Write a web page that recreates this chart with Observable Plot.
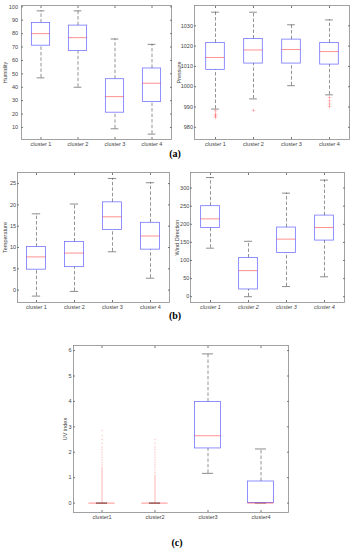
<!DOCTYPE html>
<html>
<head>
<meta charset="utf-8">
<script src="https://cdn.jsdelivr.net/npm/d3@7"></script>
<script src="https://cdn.jsdelivr.net/npm/@observablehq/plot@0.6"></script>
<style>
  html, body { margin: 0; padding: 0; background: #fff; }
  #wrap { position: relative; width: 354px; height: 550px; overflow: hidden; background: #fff; }
  #wrap svg { position: absolute; background: transparent !important; }
  .tag { position: absolute; font-family: "Liberation Serif", "DejaVu Serif", serif; font-weight: bold; font-size: 10px; color: #000; transform: translate(-50%, -50%); }
</style>
</head>
<body>
<div id="wrap"></div>
<script>
// ---------- data ----------
const clusters = ["cluster 1", "cluster 2", "cluster 3", "cluster 4"];
const clustersUV = ["cluster1", "cluster2", "cluster3", "cluster4"];

// Humidity
const humLower  = [47, 40, 9, 5];
const humQ1     = [71, 67, 21, 29];
const humMedian = [80, 77, 33, 43];
const humQ3     = [88, 86, 46, 54];
const humUpper  = [97, 97, 76, 72];
const humTicks  = [10, 20, 30, 40, 50, 60, 70, 80, 90, 100];

// Pressure
const presLower  = [989, 994, 1000.5, 996];
const presQ1     = [1008.3, 1011.4, 1011.4, 1010.9];
const presMedian = [1014.4, 1018.1, 1018.3, 1017.3];
const presQ3     = [1021.5, 1023.5, 1023.2, 1021.5];
const presUpper  = [1036.7, 1036.7, 1030.5, 1032.9];
const presOutC1  = [988.1, 986.5, 985.7, 984.9];
const presOutC2  = [988.3];
const presOutC4  = [994.7, 993, 991.5, 990.2];
const presTicks  = [980, 990, 1000, 1010, 1020, 1030];

// Temperature
const tempLower  = [-1.4, -0.3, 9.0, 2.8];
const tempQ1     = [4.8, 5.4, 14.1, 9.5];
const tempMedian = [7.8, 8.7, 17.2, 12.7];
const tempQ3     = [10.1, 11.3, 20.6, 15.8];
const tempUpper  = [17.9, 20.2, 26.2, 25.2];
const tempTicks  = [0, 5, 10, 15, 20, 25];

// Wind Direction
const windLower  = [134, 0, 28, 55];
const windQ1     = [190, 20, 121, 155];
const windMedian = [215, 72, 159, 191];
const windQ3     = [250, 107, 191, 224];
const windUpper  = [329, 153, 286, 322];
const windTicks  = [0, 50, 100, 150, 200, 250, 300];

// UV index
const uvLower  = [0, 0, 1.17, 0];
const uvQ1     = [0, 0, 2.15, 0];
const uvMedian = [0, 0, 2.65, 0];
const uvQ3     = [0, 0, 3.98, 0.85];
const uvUpper  = [0, 0, 5.87, 2.13];
const uvOutC1  = [0.05, 0.1, 0.15, 0.2, 0.25, 0.3, 0.35, 0.4, 0.45, 0.5, 0.55, 0.6, 0.65, 0.7, 0.75, 0.8, 0.85, 0.9, 0.95, 1.0, 1.05, 1.1, 1.15, 1.2, 1.25, 1.3, 1.35, 1.4, 1.5, 1.6, 1.7, 1.8, 1.9, 2.0, 2.1, 2.2, 2.35, 2.5, 2.65, 2.85];
const uvOutC2  = [0.05, 0.1, 0.15, 0.2, 0.25, 0.3, 0.35, 0.4, 0.45, 0.5, 0.55, 0.6, 0.65, 0.7, 0.75, 0.8, 0.85, 0.9, 0.95, 1.0, 1.05, 1.1, 1.2, 1.3, 1.4, 1.5, 1.6, 1.7, 1.8, 1.9, 2.0, 2.1, 2.2, 2.35, 2.5];
const uvTicks  = [0, 1, 2, 3, 4, 5, 6];

// ---------- helpers ----------
const wrap = document.getElementById("wrap");
const BLUE = "#0000ff", RED = "#ff0000", GREY = "#333";

function rowsOf(names, lo, q1, md, q3, hi) {
  return names.map((n, i) => ({name: n, lo: lo[i], q1: q1[i], md: md[i], q3: q3[i], hi: hi[i]}));
}
function outRows(names, lists) {
  const out = [];
  lists.forEach((arr, i) => { if (arr) arr.forEach(v => out.push({name: names[i], v})); });
  return out;
}

function panel(cfg) {
  const [sx, sy, sw, sh] = cfg.box;
  const [x0, y0, x1, y1] = cfg.frame;
  const band = (x1 - x0) / cfg.names.length;
  const boxInset = band * 0.25;
  const capInset = band * 0.39;
  const xAxisOpts = {anchor: "bottom", tickSize: -2, tickPadding: 5, label: null, stroke: "#777"};
  if (cfg.italic) xAxisOpts.fontStyle = "italic";
  const p = Plot.plot({
    width: sw, height: sh,
    marginLeft: x0 - sx, marginTop: y0 - sy, marginRight: sx + sw - x1, marginBottom: sy + sh - y1,
    style: {fontFamily: "Liberation Sans, Arial, sans-serif", fontSize: "5.5px", color: "#444", background: "transparent"},
    x: {type: "band", domain: cfg.names, padding: 0},
    y: {domain: cfg.domain},
    marks: [
      Plot.frame({stroke: "#8a8a8a", strokeWidth: 0.8}),
      Plot.ruleX(cfg.rows, {x: "name", y1: "q3", y2: "hi", stroke: GREY, strokeWidth: 0.7, strokeOpacity: 0.75, strokeDasharray: "3.5,2"}),
      Plot.ruleX(cfg.rows, {x: "name", y1: "lo", y2: "q1", stroke: GREY, strokeWidth: 0.7, strokeOpacity: 0.75, strokeDasharray: "3.5,2"}),
      Plot.tickY(cfg.rows, {x: "name", y: "hi", insetLeft: capInset, insetRight: capInset, stroke: GREY, strokeWidth: 0.7, strokeOpacity: 0.8}),
      Plot.tickY(cfg.rows, {x: "name", y: "lo", insetLeft: capInset, insetRight: capInset, stroke: GREY, strokeWidth: 0.7, strokeOpacity: 0.8}),
      Plot.barY(cfg.rows, {x: "name", y1: "q1", y2: "q3", insetLeft: boxInset, insetRight: boxInset, fill: "white", stroke: BLUE, strokeWidth: 0.8, strokeOpacity: 0.55}),
      Plot.tickY(cfg.rows, {x: "name", y: "md", insetLeft: boxInset, insetRight: boxInset, stroke: RED, strokeWidth: 0.8, strokeOpacity: 0.55}),
      Plot.dot(cfg.outliers || [], {x: "name", y: "v", symbol: "plus", r: cfg.outR || 1.3, stroke: RED, strokeWidth: 0.5, strokeOpacity: cfg.outOpacity || 0.45}),
      Plot.axisY({anchor: "left", ticks: cfg.ticks, tickFormat: d => String(d), tickSize: -2, tickPadding: cfg.tickPad || 4, stroke: "#777",
        label: cfg.label, labelAnchor: "center", labelArrow: "none", labelOffset: cfg.labelOffset}),
      Plot.axisY({anchor: "right", ticks: cfg.ticks, tickSize: -2, tickFormat: () => "", label: null, stroke: "#777"}),
      Plot.axisX(xAxisOpts),
      Plot.axisX({anchor: "top", tickSize: -2, tickFormat: () => "", label: null, stroke: "#777"})
    ]
  });
  p.style.left = sx + "px";
  p.style.top = sy + "px";
  wrap.appendChild(p);
}

function tag(text, x, y) {
  const d = document.createElement("div");
  d.className = "tag";
  d.textContent = text;
  d.style.left = x + "px";
  d.style.top = y + "px";
  wrap.appendChild(d);
}

// ---------- panels ----------
panel({box: [0, 0, 177, 150], frame: [21, 5, 171, 139], names: clusters, domain: [1, 101],
  rows: rowsOf(clusters, humLower, humQ1, humMedian, humQ3, humUpper), ticks: humTicks,
  label: "Humidity", labelOffset: 18, tickPad: 5.5});

panel({box: [172, 0, 182, 150], frame: [194, 5, 349, 139], names: clusters, domain: [974, 1040],
  rows: rowsOf(clusters, presLower, presQ1, presMedian, presQ3, presUpper), ticks: presTicks,
  outliers: outRows(clusters, [presOutC1, presOutC2, null, presOutC4]),
  label: "Pressure", labelOffset: 17, tickPad: 3.5});

panel({box: [0, 165, 177, 150], frame: [17, 172, 169, 302], names: clusters, domain: [-2.9, 27.6],
  rows: rowsOf(clusters, tempLower, tempQ1, tempMedian, tempQ3, tempUpper), ticks: tempTicks,
  label: "Temperature", labelOffset: 14, tickPad: 3.5});

panel({box: [172, 165, 182, 150], frame: [190, 172, 344, 302], names: clusters, domain: [-16, 343],
  rows: rowsOf(clusters, windLower, windQ1, windMedian, windQ3, windUpper), ticks: windTicks,
  label: "Wind Direction", labelOffset: 15, tickPad: 3.2, italic: true});

panel({box: [0, 340, 354, 185], frame: [73, 345, 288, 512], names: clustersUV, domain: [-0.37, 6.2],
  rows: rowsOf(clustersUV, uvLower, uvQ1, uvMedian, uvQ3, uvUpper), ticks: uvTicks,
  outliers: outRows(clustersUV, [uvOutC1, uvOutC2, null, null]), outR: 0.7, outOpacity: 0.2,
  label: "UV index", labelOffset: 10, tickPad: 4});

tag("(a)", 175, 153);
tag("(b)", 175, 315);
tag("(c)", 177, 542);
</script>
</body>
</html>
